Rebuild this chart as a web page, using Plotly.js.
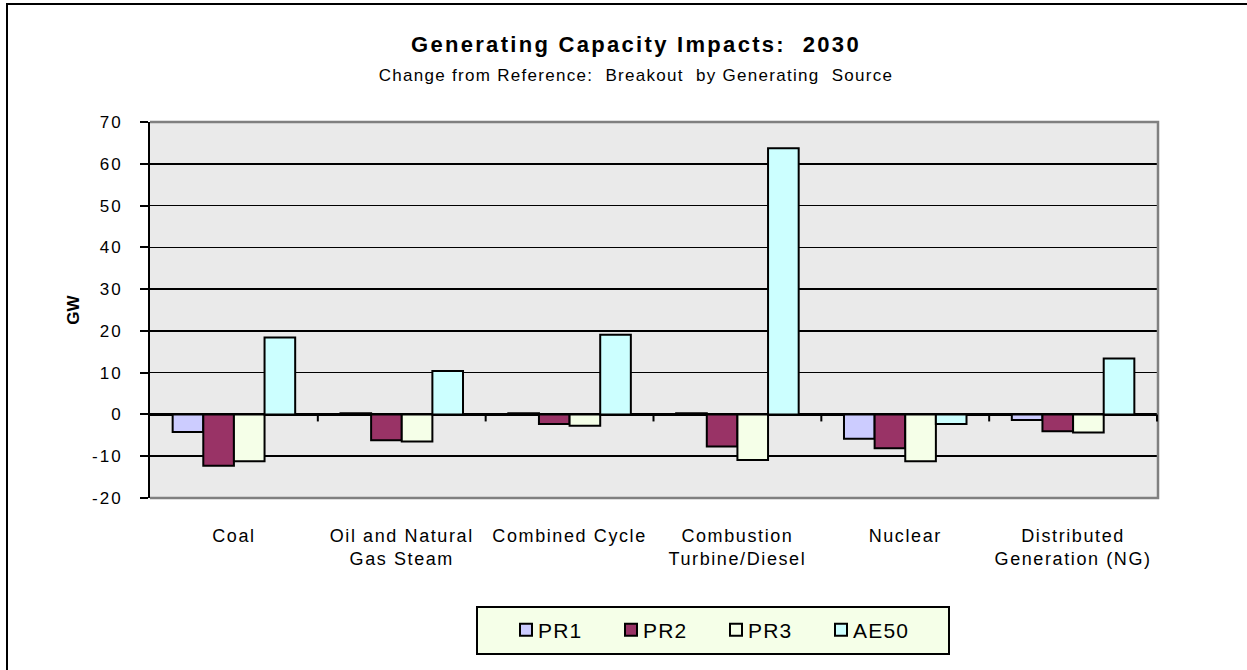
<!DOCTYPE html>
<html>
<head>
<meta charset="utf-8">
<script src="https://cdn.plot.ly/plotly-3.0.1.min.js"></script>
<style>
  html, body { margin: 0; padding: 0; background: #fff; }
  #chart { position: absolute; left: 0; top: 0; width: 1247px; height: 670px; }
  #frame { position: absolute; left: 6px; top: 3px; width: 1250px; height: 700px;
           border-top: 2px solid #000; border-left: 2px solid #000; pointer-events: none; }
  .xtick text { letter-spacing: 1.6px; }
  .ytick text { letter-spacing: 2px; }
  .legendtext { letter-spacing: 1.2px; transform: translateX(-8px); }
  .gtitle { letter-spacing: 2.3px; }
</style>
</head>
<body>
<div id="chart"></div>
<div id="frame"></div>
<script>
const categories = ["Coal", "Oil and Natural<br>Gas Steam", "Combined Cycle",
                    "Combustion<br>Turbine/Diesel", "Nuclear", "Distributed<br>Generation (NG)"];
const seriesNames = ["PR1", "PR2", "PR3", "AE50"];
const pr1  = [-4.2, 0.3, 0.3, 0.3, -5.8, -1.3];
const pr2  = [-12.3, -6.2, -2.3, -7.7, -8.1, -4.0];
const pr3  = [-11.2, -6.5, -2.7, -10.9, -11.2, -4.3];
const ae50 = [18.4, 10.4, 19.1, 63.7, -2.3, 13.4];
const colors = ["#CCCCFF", "#993366", "#F5FFE8", "#CCFFFF"];
const yTicks = [-20, -10, 0, 10, 20, 30, 40, 50, 60, 70];
const titleText = "Generating Capacity Impacts:  2030";
const subtitleText = "Change from Reference:  Breakout  by Generating  Source";

const FONT = "Liberation Sans, Arial, sans-serif";
const values = [pr1, pr2, pr3, ae50];
const traces = values.map((v, i) => ({
  type: "bar",
  name: seriesNames[i],
  x: categories,
  y: v,
  marker: { color: colors[i], line: { color: "#000", width: 2 } },
  hoverinfo: "x+y+name"
}));

const shapes = [];
// grey frame of plot area (top, right, bottom)
shapes.push({ type: "path", xref: "paper", yref: "paper", path: "M0,1 L1,1 L1,0 L0,0",
              line: { color: "#808080", width: 2.5 }, layer: "above" });
// category separator ticks on the zero line
for (let i = 0; i < categories.length; i++) {
  shapes.push({ type: "line", xref: "x", yref: "y", ysizemode: "pixel", yanchor: 0,
                x0: i + 0.5, x1: i + 0.5, y0: 0, y1: -7,
                line: { color: "#000", width: 2 }, layer: "above" });
}
// legend box
shapes.push({ type: "rect", xref: "paper", yref: "paper",
              x0: (477 - 150) / 1008, x1: (949 - 150) / 1008,
              y0: (498 - 654) / 376, y1: (498 - 607) / 376,
              fillcolor: "#F5FFE8", line: { color: "#000", width: 2 }, layer: "below" });

const layout = {
  width: 1247, height: 670,
  margin: { l: 150, r: 89, t: 122, b: 172, pad: 0 },
  paper_bgcolor: "#FFFFFF",
  plot_bgcolor: "#EAEAEA",
  font: { family: FONT, color: "#000", size: 17 },
  title: {
    text: titleText + "<br><span style='font-size:17px;font-weight:normal;letter-spacing:1.3px'>" + subtitleText + "</span>",
    font: { family: FONT, size: 22, weight: "bold", color: "#000" },
    x: 0.51, xref: "container", y: 1 - 52 / 670, yanchor: "top"
  },
  barmode: "group",
  bargap: 0.27,
  bargroupgap: 0,
  xaxis: {
    type: "category",
    showgrid: false, zeroline: false, showline: false,
    ticks: "", ticklabelstandoff: 25,
    tickfont: { family: FONT, size: 18, color: "#000" }
  },
  yaxis: {
    range: [-20, 70], tickvals: yTicks, ticktext: yTicks.map(String),
    showgrid: true, gridcolor: "#000", gridwidth: 1.5,
    zeroline: true, zerolinecolor: "#000", zerolinewidth: 2.5,
    showline: true, linecolor: "#000", linewidth: 2,
    ticks: "outside", ticklen: 8, tickwidth: 2, tickcolor: "#000",
    ticklabelstandoff: 14,
    tickfont: { family: FONT, size: 17, color: "#000" },
    title: { text: "GW", font: { family: FONT, size: 17, weight: "bold", color: "#000" }, standoff: 8 }
  },
  showlegend: true,
  legend: {
    orientation: "h",
    x: (506 - 150) / 1008, xanchor: "left",
    y: (498 - 630) / 376, yanchor: "middle",
    bgcolor: "rgba(0,0,0,0)", borderwidth: 0,
    font: { family: FONT, size: 21, color: "#000" },
    entrywidth: 60, entrywidthmode: "pixels",
    itemwidth: 30
  },
  shapes: shapes
};

Plotly.newPlot("chart", traces, layout, { displayModeBar: false, staticPlot: true });
</script>
</body>
</html>
